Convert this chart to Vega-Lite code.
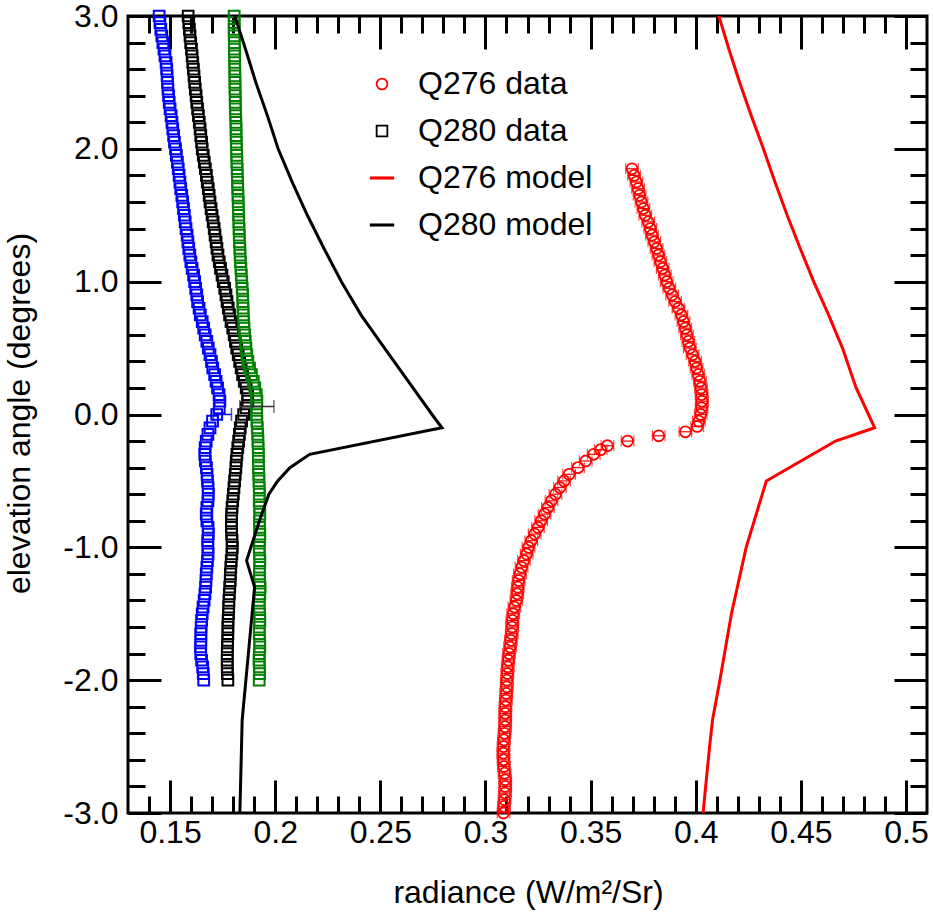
{
  "$schema": "https://vega.github.io/schema/vega-lite/v6.json",
  "width": 799,
  "height": 797,
  "autosize": {"type": "none"},
  "padding": {"left": 128, "top": 16, "right": 6, "bottom": 104},
  "background": "white",
  "config": {
    "font": "Liberation Sans",
    "view": {"stroke": "black", "strokeWidth": 3},
    "axis": {"grid": false, "domain": false, "tickColor": "black", "tickWidth": 3, "labelColor": "black", "labelFont": "Liberation Sans", "labelFontSize": 32, "titleFont": "Liberation Sans", "titleFontSize": 32, "titleFontWeight": "normal", "titleColor": "black", "labelOverlap": false, "labelFlush": false}
  },
  "resolve": {"axis": {"x": "independent", "y": "independent"}},
  "datasets": {
    "blue": [
      {"elev": -2.0, "rad": 0.166}, {"elev": -1.95, "rad": 0.1658}, {"elev": -1.9, "rad": 0.1655}, {"elev": -1.85, "rad": 0.165}, {"elev": -1.8, "rad": 0.1646}, {"elev": -1.75, "rad": 0.1645}, {"elev": -1.7, "rad": 0.1647}, {"elev": -1.65, "rad": 0.1646}, {"elev": -1.6, "rad": 0.1648}, {"elev": -1.55, "rad": 0.165},
      {"elev": -1.5, "rad": 0.1653}, {"elev": -1.45, "rad": 0.1657}, {"elev": -1.4, "rad": 0.1662}, {"elev": -1.35, "rad": 0.1666}, {"elev": -1.3, "rad": 0.1669}, {"elev": -1.25, "rad": 0.1671}, {"elev": -1.2, "rad": 0.1672}, {"elev": -1.15, "rad": 0.1675}, {"elev": -1.1, "rad": 0.1678}, {"elev": -1.05, "rad": 0.1681},
      {"elev": -1.0, "rad": 0.168}, {"elev": -0.95, "rad": 0.1679}, {"elev": -0.9, "rad": 0.1682}, {"elev": -0.85, "rad": 0.1681}, {"elev": -0.8, "rad": 0.1675}, {"elev": -0.75, "rad": 0.1672}, {"elev": -0.7, "rad": 0.1675}, {"elev": -0.65, "rad": 0.168}, {"elev": -0.6, "rad": 0.1682}, {"elev": -0.55, "rad": 0.1681},
      {"elev": -0.5, "rad": 0.1678}, {"elev": -0.45, "rad": 0.1676}, {"elev": -0.4, "rad": 0.1673}, {"elev": -0.35, "rad": 0.1668}, {"elev": -0.3, "rad": 0.1665}, {"elev": -0.25, "rad": 0.1667}, {"elev": -0.2, "rad": 0.1672}, {"elev": -0.15, "rad": 0.168}, {"elev": -0.1, "rad": 0.169}, {"elev": -0.05, "rad": 0.1702},
      {"elev": 0.0, "rad": 0.1722}, {"elev": 0.05, "rad": 0.1734}, {"elev": 0.1, "rad": 0.1737}, {"elev": 0.15, "rad": 0.1733}, {"elev": 0.2, "rad": 0.1726}, {"elev": 0.25, "rad": 0.1719}, {"elev": 0.3, "rad": 0.1712}, {"elev": 0.35, "rad": 0.1703}, {"elev": 0.4, "rad": 0.1697}, {"elev": 0.45, "rad": 0.169},
      {"elev": 0.5, "rad": 0.1682}, {"elev": 0.55, "rad": 0.1675}, {"elev": 0.6, "rad": 0.1667}, {"elev": 0.65, "rad": 0.166}, {"elev": 0.7, "rad": 0.1653}, {"elev": 0.75, "rad": 0.1644}, {"elev": 0.8, "rad": 0.1638}, {"elev": 0.85, "rad": 0.1631}, {"elev": 0.9, "rad": 0.1627}, {"elev": 0.95, "rad": 0.1622},
      {"elev": 1.0, "rad": 0.1617}, {"elev": 1.05, "rad": 0.1612}, {"elev": 1.1, "rad": 0.1605}, {"elev": 1.15, "rad": 0.1599}, {"elev": 1.2, "rad": 0.1594}, {"elev": 1.25, "rad": 0.1589}, {"elev": 1.3, "rad": 0.1585}, {"elev": 1.35, "rad": 0.1581}, {"elev": 1.4, "rad": 0.1576}, {"elev": 1.45, "rad": 0.1572},
      {"elev": 1.5, "rad": 0.1568}, {"elev": 1.55, "rad": 0.1564}, {"elev": 1.6, "rad": 0.156}, {"elev": 1.65, "rad": 0.1556}, {"elev": 1.7, "rad": 0.1551}, {"elev": 1.75, "rad": 0.1547}, {"elev": 1.8, "rad": 0.1543}, {"elev": 1.85, "rad": 0.1539}, {"elev": 1.9, "rad": 0.1535}, {"elev": 1.95, "rad": 0.153},
      {"elev": 2.0, "rad": 0.1526}, {"elev": 2.05, "rad": 0.1521}, {"elev": 2.1, "rad": 0.1517}, {"elev": 2.15, "rad": 0.1513}, {"elev": 2.2, "rad": 0.1509}, {"elev": 2.25, "rad": 0.1505}, {"elev": 2.3, "rad": 0.15}, {"elev": 2.35, "rad": 0.1496}, {"elev": 2.4, "rad": 0.1493}, {"elev": 2.45, "rad": 0.149},
      {"elev": 2.5, "rad": 0.1488}, {"elev": 2.55, "rad": 0.1486}, {"elev": 2.6, "rad": 0.1484}, {"elev": 2.65, "rad": 0.1481}, {"elev": 2.7, "rad": 0.1476}, {"elev": 2.75, "rad": 0.1471}, {"elev": 2.8, "rad": 0.1466}, {"elev": 2.85, "rad": 0.1461}, {"elev": 2.9, "rad": 0.1456}, {"elev": 2.95, "rad": 0.1452},
      {"elev": 3.0, "rad": 0.1448}
    ],
    "black": [
      {"elev": -2.0, "rad": 0.1775}, {"elev": -1.95, "rad": 0.1773}, {"elev": -1.9, "rad": 0.1772}, {"elev": -1.85, "rad": 0.1772}, {"elev": -1.8, "rad": 0.1772}, {"elev": -1.75, "rad": 0.1773}, {"elev": -1.7, "rad": 0.1774}, {"elev": -1.65, "rad": 0.1775}, {"elev": -1.6, "rad": 0.1775}, {"elev": -1.55, "rad": 0.1776},
      {"elev": -1.5, "rad": 0.1778}, {"elev": -1.45, "rad": 0.1779}, {"elev": -1.4, "rad": 0.178}, {"elev": -1.35, "rad": 0.1782}, {"elev": -1.3, "rad": 0.1784}, {"elev": -1.25, "rad": 0.1786}, {"elev": -1.2, "rad": 0.1787}, {"elev": -1.15, "rad": 0.1789}, {"elev": -1.1, "rad": 0.1791}, {"elev": -1.05, "rad": 0.1794},
      {"elev": -1.0, "rad": 0.1796}, {"elev": -0.95, "rad": 0.1795}, {"elev": -0.9, "rad": 0.1793}, {"elev": -0.85, "rad": 0.1792}, {"elev": -0.8, "rad": 0.1792}, {"elev": -0.75, "rad": 0.1793}, {"elev": -0.7, "rad": 0.1795}, {"elev": -0.65, "rad": 0.1798}, {"elev": -0.6, "rad": 0.1801}, {"elev": -0.55, "rad": 0.1804},
      {"elev": -0.5, "rad": 0.1807}, {"elev": -0.45, "rad": 0.181}, {"elev": -0.4, "rad": 0.1813}, {"elev": -0.35, "rad": 0.1815}, {"elev": -0.3, "rad": 0.1818}, {"elev": -0.25, "rad": 0.1822}, {"elev": -0.2, "rad": 0.1826}, {"elev": -0.15, "rad": 0.183}, {"elev": -0.1, "rad": 0.1834}, {"elev": -0.05, "rad": 0.184},
      {"elev": 0.0, "rad": 0.185}, {"elev": 0.05, "rad": 0.1862}, {"elev": 0.1, "rad": 0.187}, {"elev": 0.15, "rad": 0.1869}, {"elev": 0.2, "rad": 0.1862}, {"elev": 0.25, "rad": 0.1853}, {"elev": 0.3, "rad": 0.1845}, {"elev": 0.35, "rad": 0.1838}, {"elev": 0.4, "rad": 0.1831}, {"elev": 0.45, "rad": 0.1824},
      {"elev": 0.5, "rad": 0.1817}, {"elev": 0.55, "rad": 0.1811}, {"elev": 0.6, "rad": 0.1805}, {"elev": 0.65, "rad": 0.1798}, {"elev": 0.7, "rad": 0.179}, {"elev": 0.75, "rad": 0.1783}, {"elev": 0.8, "rad": 0.1777}, {"elev": 0.85, "rad": 0.1771}, {"elev": 0.9, "rad": 0.1766}, {"elev": 0.95, "rad": 0.176},
      {"elev": 1.0, "rad": 0.1753}, {"elev": 1.05, "rad": 0.1747}, {"elev": 1.1, "rad": 0.174}, {"elev": 1.15, "rad": 0.1734}, {"elev": 1.2, "rad": 0.1728}, {"elev": 1.25, "rad": 0.1723}, {"elev": 1.3, "rad": 0.1719}, {"elev": 1.35, "rad": 0.1714}, {"elev": 1.4, "rad": 0.171}, {"elev": 1.45, "rad": 0.1705},
      {"elev": 1.5, "rad": 0.17}, {"elev": 1.55, "rad": 0.1695}, {"elev": 1.6, "rad": 0.169}, {"elev": 1.65, "rad": 0.1686}, {"elev": 1.7, "rad": 0.1682}, {"elev": 1.75, "rad": 0.1677}, {"elev": 1.8, "rad": 0.1673}, {"elev": 1.85, "rad": 0.1668}, {"elev": 1.9, "rad": 0.1663}, {"elev": 1.95, "rad": 0.1658},
      {"elev": 2.0, "rad": 0.1653}, {"elev": 2.05, "rad": 0.165}, {"elev": 2.1, "rad": 0.1646}, {"elev": 2.15, "rad": 0.1643}, {"elev": 2.2, "rad": 0.1639}, {"elev": 2.25, "rad": 0.1635}, {"elev": 2.3, "rad": 0.1631}, {"elev": 2.35, "rad": 0.1627}, {"elev": 2.4, "rad": 0.1624}, {"elev": 2.45, "rad": 0.162},
      {"elev": 2.5, "rad": 0.1617}, {"elev": 2.55, "rad": 0.1614}, {"elev": 2.6, "rad": 0.1611}, {"elev": 2.65, "rad": 0.1608}, {"elev": 2.7, "rad": 0.1605}, {"elev": 2.75, "rad": 0.1602}, {"elev": 2.8, "rad": 0.1598}, {"elev": 2.85, "rad": 0.1595}, {"elev": 2.9, "rad": 0.1592}, {"elev": 2.95, "rad": 0.1589},
      {"elev": 3.0, "rad": 0.1586}
    ],
    "green": [
      {"elev": -2.0, "rad": 0.1924}, {"elev": -1.95, "rad": 0.1926}, {"elev": -1.9, "rad": 0.1925}, {"elev": -1.85, "rad": 0.1923}, {"elev": -1.8, "rad": 0.1925}, {"elev": -1.75, "rad": 0.1927}, {"elev": -1.7, "rad": 0.1926}, {"elev": -1.65, "rad": 0.1924}, {"elev": -1.6, "rad": 0.1925}, {"elev": -1.55, "rad": 0.1927},
      {"elev": -1.5, "rad": 0.1926}, {"elev": -1.45, "rad": 0.1924}, {"elev": -1.4, "rad": 0.1925}, {"elev": -1.35, "rad": 0.1927}, {"elev": -1.3, "rad": 0.1928}, {"elev": -1.25, "rad": 0.1926}, {"elev": -1.2, "rad": 0.1925}, {"elev": -1.15, "rad": 0.1926}, {"elev": -1.1, "rad": 0.1927}, {"elev": -1.05, "rad": 0.1925},
      {"elev": -1.0, "rad": 0.1924}, {"elev": -0.95, "rad": 0.1926}, {"elev": -0.9, "rad": 0.1927}, {"elev": -0.85, "rad": 0.1926}, {"elev": -0.8, "rad": 0.1925}, {"elev": -0.75, "rad": 0.1927}, {"elev": -0.7, "rad": 0.1926}, {"elev": -0.65, "rad": 0.1924}, {"elev": -0.6, "rad": 0.1925}, {"elev": -0.55, "rad": 0.1924},
      {"elev": -0.5, "rad": 0.1923}, {"elev": -0.45, "rad": 0.1922}, {"elev": -0.4, "rad": 0.1921}, {"elev": -0.35, "rad": 0.192}, {"elev": -0.3, "rad": 0.192}, {"elev": -0.25, "rad": 0.1919}, {"elev": -0.2, "rad": 0.1918}, {"elev": -0.15, "rad": 0.1917}, {"elev": -0.1, "rad": 0.1915}, {"elev": -0.05, "rad": 0.1913},
      {"elev": 0.0, "rad": 0.1911}, {"elev": 0.05, "rad": 0.1912}, {"elev": 0.1, "rad": 0.1913}, {"elev": 0.15, "rad": 0.191}, {"elev": 0.2, "rad": 0.1903}, {"elev": 0.25, "rad": 0.1896}, {"elev": 0.3, "rad": 0.1887}, {"elev": 0.35, "rad": 0.1878}, {"elev": 0.4, "rad": 0.187}, {"elev": 0.45, "rad": 0.1865},
      {"elev": 0.5, "rad": 0.1861}, {"elev": 0.55, "rad": 0.1858}, {"elev": 0.6, "rad": 0.1855}, {"elev": 0.65, "rad": 0.1852}, {"elev": 0.7, "rad": 0.185}, {"elev": 0.75, "rad": 0.1848}, {"elev": 0.8, "rad": 0.1847}, {"elev": 0.85, "rad": 0.1846}, {"elev": 0.9, "rad": 0.1845}, {"elev": 0.95, "rad": 0.1843},
      {"elev": 1.0, "rad": 0.1841}, {"elev": 1.05, "rad": 0.1839}, {"elev": 1.1, "rad": 0.1837}, {"elev": 1.15, "rad": 0.1835}, {"elev": 1.2, "rad": 0.1833}, {"elev": 1.25, "rad": 0.1832}, {"elev": 1.3, "rad": 0.183}, {"elev": 1.35, "rad": 0.1829}, {"elev": 1.4, "rad": 0.1828}, {"elev": 1.45, "rad": 0.1827},
      {"elev": 1.5, "rad": 0.1826}, {"elev": 1.55, "rad": 0.1825}, {"elev": 1.6, "rad": 0.1824}, {"elev": 1.65, "rad": 0.1823}, {"elev": 1.7, "rad": 0.1822}, {"elev": 1.75, "rad": 0.1821}, {"elev": 1.8, "rad": 0.182}, {"elev": 1.85, "rad": 0.1819}, {"elev": 1.9, "rad": 0.1818}, {"elev": 1.95, "rad": 0.1817},
      {"elev": 2.0, "rad": 0.1816}, {"elev": 2.05, "rad": 0.1815}, {"elev": 2.1, "rad": 0.1814}, {"elev": 2.15, "rad": 0.1814}, {"elev": 2.2, "rad": 0.1813}, {"elev": 2.25, "rad": 0.1812}, {"elev": 2.3, "rad": 0.1811}, {"elev": 2.35, "rad": 0.181}, {"elev": 2.4, "rad": 0.181}, {"elev": 2.45, "rad": 0.1809},
      {"elev": 2.5, "rad": 0.1809}, {"elev": 2.55, "rad": 0.1808}, {"elev": 2.6, "rad": 0.1808}, {"elev": 2.65, "rad": 0.1807}, {"elev": 2.7, "rad": 0.1807}, {"elev": 2.75, "rad": 0.1806}, {"elev": 2.8, "rad": 0.1806}, {"elev": 2.85, "rad": 0.1805}, {"elev": 2.9, "rad": 0.1805}, {"elev": 2.95, "rad": 0.1805},
      {"elev": 3.0, "rad": 0.1805}
    ],
    "red": [
      {"elev": -3.0, "rad": 0.3086, "err": 0.003}, {"elev": -2.95, "rad": 0.3088, "err": 0.003}, {"elev": -2.9, "rad": 0.3091, "err": 0.003}, {"elev": -2.85, "rad": 0.3093, "err": 0.003}, {"elev": -2.8, "rad": 0.3094, "err": 0.003}, {"elev": -2.75, "rad": 0.3094, "err": 0.003}, {"elev": -2.7, "rad": 0.3091, "err": 0.003}, {"elev": -2.65, "rad": 0.3088, "err": 0.003}, {"elev": -2.6, "rad": 0.3086, "err": 0.003}, {"elev": -2.55, "rad": 0.3085, "err": 0.003},
      {"elev": -2.5, "rad": 0.3086, "err": 0.003}, {"elev": -2.45, "rad": 0.3088, "err": 0.003}, {"elev": -2.4, "rad": 0.3091, "err": 0.003}, {"elev": -2.35, "rad": 0.3093, "err": 0.003}, {"elev": -2.3, "rad": 0.3094, "err": 0.003}, {"elev": -2.25, "rad": 0.3094, "err": 0.003}, {"elev": -2.2, "rad": 0.3095, "err": 0.003}, {"elev": -2.15, "rad": 0.3097, "err": 0.003}, {"elev": -2.1, "rad": 0.3099, "err": 0.003}, {"elev": -2.05, "rad": 0.3101, "err": 0.003},
      {"elev": -2.0, "rad": 0.3102, "err": 0.003}, {"elev": -1.95, "rad": 0.3104, "err": 0.003}, {"elev": -1.9, "rad": 0.3106, "err": 0.003}, {"elev": -1.85, "rad": 0.3109, "err": 0.003}, {"elev": -1.8, "rad": 0.3112, "err": 0.003}, {"elev": -1.75, "rad": 0.3117, "err": 0.003}, {"elev": -1.7, "rad": 0.3121, "err": 0.003}, {"elev": -1.65, "rad": 0.3125, "err": 0.003}, {"elev": -1.6, "rad": 0.3127, "err": 0.003}, {"elev": -1.55, "rad": 0.3128, "err": 0.003},
      {"elev": -1.5, "rad": 0.3132, "err": 0.003}, {"elev": -1.45, "rad": 0.3138, "err": 0.003}, {"elev": -1.4, "rad": 0.3147, "err": 0.003}, {"elev": -1.35, "rad": 0.3151, "err": 0.003}, {"elev": -1.3, "rad": 0.3154, "err": 0.003}, {"elev": -1.25, "rad": 0.3158, "err": 0.003}, {"elev": -1.2, "rad": 0.3164, "err": 0.003}, {"elev": -1.15, "rad": 0.3172, "err": 0.003}, {"elev": -1.1, "rad": 0.3183, "err": 0.003}, {"elev": -1.05, "rad": 0.3196, "err": 0.003},
      {"elev": -1.0, "rad": 0.3205, "err": 0.003}, {"elev": -0.95, "rad": 0.3218, "err": 0.003}, {"elev": -0.9, "rad": 0.3234, "err": 0.003}, {"elev": -0.85, "rad": 0.325, "err": 0.003}, {"elev": -0.8, "rad": 0.3265, "err": 0.003}, {"elev": -0.75, "rad": 0.3281, "err": 0.003}, {"elev": -0.7, "rad": 0.3297, "err": 0.003}, {"elev": -0.65, "rad": 0.3314, "err": 0.003}, {"elev": -0.6, "rad": 0.3333, "err": 0.003}, {"elev": -0.55, "rad": 0.3354, "err": 0.003},
      {"elev": -0.5, "rad": 0.3374, "err": 0.003}, {"elev": -0.45, "rad": 0.3398, "err": 0.003}, {"elev": -0.4, "rad": 0.344, "err": 0.003}, {"elev": -0.35, "rad": 0.3477, "err": 0.003}, {"elev": -0.3, "rad": 0.3515, "err": 0.003}, {"elev": -0.265, "rad": 0.3548, "err": 0.003}, {"elev": -0.235, "rad": 0.358, "err": 0.003}, {"elev": -0.2, "rad": 0.3676, "err": 0.003}, {"elev": -0.16, "rad": 0.3824, "err": 0.003}, {"elev": -0.13, "rad": 0.3951, "err": 0.003},
      {"elev": -0.09, "rad": 0.4007, "err": 0.003}, {"elev": -0.05, "rad": 0.4015, "err": 0.003}, {"elev": 0.0, "rad": 0.4024, "err": 0.003}, {"elev": 0.05, "rad": 0.4028, "err": 0.003}, {"elev": 0.1, "rad": 0.403, "err": 0.003}, {"elev": 0.15, "rad": 0.4028, "err": 0.003}, {"elev": 0.2, "rad": 0.4025, "err": 0.003}, {"elev": 0.25, "rad": 0.402, "err": 0.003}, {"elev": 0.3, "rad": 0.4012, "err": 0.003}, {"elev": 0.35, "rad": 0.4004, "err": 0.003},
      {"elev": 0.4, "rad": 0.3997, "err": 0.003}, {"elev": 0.45, "rad": 0.3985, "err": 0.003}, {"elev": 0.5, "rad": 0.3972, "err": 0.003}, {"elev": 0.55, "rad": 0.3965, "err": 0.003}, {"elev": 0.6, "rad": 0.3958, "err": 0.003}, {"elev": 0.65, "rad": 0.395, "err": 0.003}, {"elev": 0.7, "rad": 0.3942, "err": 0.003}, {"elev": 0.75, "rad": 0.3932, "err": 0.003}, {"elev": 0.8, "rad": 0.3918, "err": 0.003}, {"elev": 0.85, "rad": 0.3902, "err": 0.003},
      {"elev": 0.9, "rad": 0.3888, "err": 0.003}, {"elev": 0.95, "rad": 0.3874, "err": 0.003}, {"elev": 1.0, "rad": 0.3862, "err": 0.003}, {"elev": 1.05, "rad": 0.3853, "err": 0.003}, {"elev": 1.1, "rad": 0.3843, "err": 0.003}, {"elev": 1.15, "rad": 0.3832, "err": 0.003}, {"elev": 1.2, "rad": 0.3823, "err": 0.003}, {"elev": 1.25, "rad": 0.3814, "err": 0.003}, {"elev": 1.3, "rad": 0.3803, "err": 0.003}, {"elev": 1.35, "rad": 0.3792, "err": 0.003},
      {"elev": 1.4, "rad": 0.3784, "err": 0.003}, {"elev": 1.45, "rad": 0.3774, "err": 0.003}, {"elev": 1.5, "rad": 0.376, "err": 0.003}, {"elev": 1.55, "rad": 0.3751, "err": 0.003}, {"elev": 1.6, "rad": 0.3742, "err": 0.003}, {"elev": 1.65, "rad": 0.3733, "err": 0.003}, {"elev": 1.7, "rad": 0.3726, "err": 0.003}, {"elev": 1.75, "rad": 0.3718, "err": 0.003}, {"elev": 1.8, "rad": 0.3707, "err": 0.003}, {"elev": 1.85, "rad": 0.3697, "err": 0.003}
    ],
    "redmodel": [
      {"elev": -3.0, "rad": 0.4035}, {"elev": -2.5, "rad": 0.4066}, {"elev": -2.3, "rad": 0.408}, {"elev": -2.0, "rad": 0.4115}, {"elev": -1.5, "rad": 0.417}, {"elev": -1.0, "rad": 0.424}, {"elev": -0.5, "rad": 0.4336}, {"elev": -0.2, "rad": 0.4665}, {"elev": -0.1, "rad": 0.4851}, {"elev": 0.0, "rad": 0.4822}, {"elev": 0.2, "rad": 0.4763}, {"elev": 0.5, "rad": 0.4698}, {"elev": 0.75, "rad": 0.4632}, {"elev": 1.0, "rad": 0.4561}, {"elev": 1.25, "rad": 0.4497}, {"elev": 1.5, "rad": 0.4435}, {"elev": 1.75, "rad": 0.4377}, {"elev": 2.0, "rad": 0.4322}, {"elev": 2.25, "rad": 0.4264}, {"elev": 2.5, "rad": 0.4209}, {"elev": 2.75, "rad": 0.4158}, {"elev": 3.0, "rad": 0.411}
    ],
    "blackmodel": [
      {"elev": -3.0, "rad": 0.1832}, {"elev": -2.3, "rad": 0.1843}, {"elev": -1.3, "rad": 0.1902}, {"elev": -1.1, "rad": 0.1864}, {"elev": -0.8, "rad": 0.1925}, {"elev": -0.6, "rad": 0.197}, {"elev": -0.5, "rad": 0.2012}, {"elev": -0.4, "rad": 0.207}, {"elev": -0.3, "rad": 0.2164}, {"elev": -0.1, "rad": 0.2793}, {"elev": 0.0, "rad": 0.2746}, {"elev": 0.5, "rad": 0.252}, {"elev": 0.75, "rad": 0.2408}, {"elev": 1.0, "rad": 0.2315}, {"elev": 1.25, "rad": 0.2232}, {"elev": 1.5, "rad": 0.2153}, {"elev": 1.75, "rad": 0.2081}, {"elev": 2.0, "rad": 0.2014}, {"elev": 2.25, "rad": 0.1963}, {"elev": 2.5, "rad": 0.1908}, {"elev": 2.75, "rad": 0.1859}, {"elev": 3.0, "rad": 0.1808}
    ],
    "barblack": [
      {"elev": 0.06, "rad": 0.1913, "err": 0.0081}
    ],
    "barblue": [
      {"elev": 0.0, "rad": 0.1749, "err": 0.0043}
    ]
  },
  "layer": [
    {
      "data": {"name": "blue"},
      "mark": {"type": "point", "filled": false, "strokeWidth": 2, "size": 115, "opacity": 1},
      "encoding": {
        "x": {"field": "rad", "type": "quantitative", "scale": {"domain": [0.13, 0.51], "nice": false, "zero": false},
              "axis": {"orient": "bottom", "values": [0.15, 0.2, 0.25, 0.3, 0.35, 0.4, 0.45, 0.5], "tickSize": -33, "labelPadding": 37, "labelExpr": "format(datum.value, '~g')", "title": "radiance (W/m²/Sr)", "titleX": 400, "titleY": 89, "titleBaseline": "alphabetic"}},
        "y": {"field": "elev", "type": "quantitative", "scale": {"domain": [-3, 3], "nice": false, "zero": false},
              "axis": {"orient": "left", "values": [-3, -2, -1, 0, 1, 2, 3], "tickSize": -33, "labelPadding": 43, "labelExpr": "replace(format(datum.value, '.1f'), '−', '-')", "title": "elevation angle (degrees)", "titleX": -99, "titleY": 397, "titleBaseline": "alphabetic", "titleAngle": -90}},
        "color": {"datum": "blue data", "type": "nominal", "scale": {"domain": ["Q276 data", "Q280 data", "Q276 model", "Q280 model", "blue data", "green data"], "range": ["#ff0000", "#000000", "#ff0000", "#000000", "#0000ff", "#008000"]},
                  "legend": {"title": null, "orient": "none", "direction": "vertical", "legendX": 238, "legendY": 52, "values": ["Q276 data", "Q280 data", "Q276 model", "Q280 model"], "labelFont": "Liberation Sans", "labelFontSize": 32, "labelColor": "black", "labelLimit": 400, "labelOffset": 20, "rowPadding": 15, "padding": 0, "symbolSize": 115, "symbolStrokeWidth": 1.8, "symbolFillColor": "transparent", "symbolOpacity": 1}},
        "shape": {"datum": "blue data", "type": "nominal", "scale": {"domain": ["Q276 data", "Q280 data", "Q276 model", "Q280 model", "blue data", "green data"], "range": ["circle", "square", "M-2.1,-0.12H2.1V0.12H-2.1Z", "M-2.1,-0.12H2.1V0.12H-2.1Z", "square", "square"]},
                  "legend": {"title": null, "orient": "none", "direction": "vertical", "legendX": 238, "legendY": 52, "values": ["Q276 data", "Q280 data", "Q276 model", "Q280 model"], "labelFont": "Liberation Sans", "labelFontSize": 32, "labelColor": "black", "labelLimit": 400, "labelOffset": 20, "rowPadding": 15, "padding": 0, "symbolSize": 115, "symbolStrokeWidth": 1.8, "symbolFillColor": "transparent", "symbolOpacity": 1}}
      }
    },
    {
      "data": {"name": "black"},
      "mark": {"type": "point", "filled": false, "strokeWidth": 2, "size": 115, "opacity": 1},
      "encoding": {
        "x": {"field": "rad", "type": "quantitative", "scale": {"domain": [0.13, 0.51], "nice": false, "zero": false},
              "axis": {"orient": "bottom", "values": [0.14, 0.16, 0.17, 0.18, 0.19, 0.21, 0.22, 0.23, 0.24, 0.26, 0.27, 0.28, 0.29, 0.31, 0.32, 0.33, 0.34, 0.36, 0.37, 0.38, 0.39, 0.41, 0.42, 0.43, 0.44, 0.46, 0.47, 0.48, 0.49], "tickSize": -17, "labels": false, "title": null}},
        "y": {"field": "elev", "type": "quantitative", "scale": {"domain": [-3, 3], "nice": false, "zero": false},
              "axis": {"orient": "left", "values": [-2.8, -2.6, -2.4, -2.2, -1.8, -1.6, -1.4, -1.2, -0.8, -0.6, -0.4, -0.2, 0.2, 0.4, 0.6, 0.8, 1.2, 1.4, 1.6, 1.8, 2.2, 2.4, 2.6, 2.8], "tickSize": -17, "labels": false, "title": null}},
        "color": {"datum": "Q280 data", "type": "nominal"},
        "shape": {"datum": "Q280 data", "type": "nominal"}
      }
    },
    {
      "data": {"name": "green"},
      "mark": {"type": "point", "filled": false, "strokeWidth": 2, "size": 115, "opacity": 1},
      "encoding": {
        "x": {"field": "rad", "type": "quantitative", "scale": {"domain": [0.13, 0.51], "nice": false, "zero": false},
              "axis": {"orient": "top", "values": [0.15, 0.2, 0.25, 0.3, 0.35, 0.4, 0.45, 0.5], "tickSize": -33, "labels": false, "title": null}},
        "y": {"field": "elev", "type": "quantitative", "scale": {"domain": [-3, 3], "nice": false, "zero": false},
              "axis": {"orient": "right", "values": [-3, -2, -1, 0, 1, 2, 3], "tickSize": -33, "labels": false, "title": null}},
        "color": {"datum": "green data", "type": "nominal"},
        "shape": {"datum": "green data", "type": "nominal"}
      }
    },
    {
      "data": {"name": "red"},
      "mark": {"type": "point", "filled": false, "strokeWidth": 1.8, "size": 120, "opacity": 1},
      "encoding": {
        "x": {"field": "rad", "type": "quantitative", "scale": {"domain": [0.13, 0.51], "nice": false, "zero": false},
              "axis": {"orient": "top", "values": [0.14, 0.16, 0.17, 0.18, 0.19, 0.21, 0.22, 0.23, 0.24, 0.26, 0.27, 0.28, 0.29, 0.31, 0.32, 0.33, 0.34, 0.36, 0.37, 0.38, 0.39, 0.41, 0.42, 0.43, 0.44, 0.46, 0.47, 0.48, 0.49], "tickSize": -17, "labels": false, "title": null}},
        "y": {"field": "elev", "type": "quantitative", "scale": {"domain": [-3, 3], "nice": false, "zero": false},
              "axis": {"orient": "right", "values": [-2.8, -2.6, -2.4, -2.2, -1.8, -1.6, -1.4, -1.2, -0.8, -0.6, -0.4, -0.2, 0.2, 0.4, 0.6, 0.8, 1.2, 1.4, 1.6, 1.8, 2.2, 2.4, 2.6, 2.8], "tickSize": -17, "labels": false, "title": null}},
        "color": {"datum": "Q276 data", "type": "nominal"},
        "shape": {"datum": "Q276 data", "type": "nominal"}
      }
    },
    {
      "data": {"name": "red"},
      "mark": {"type": "errorbar", "ticks": {"size": 11}, "thickness": 1.2, "color": "#ff0000"},
      "encoding": {
        "x": {"field": "rad", "type": "quantitative", "scale": {"domain": [0.13, 0.51], "nice": false, "zero": false}, "axis": null},
        "xError": {"field": "err"},
        "y": {"field": "elev", "type": "quantitative", "scale": {"domain": [-3, 3], "nice": false, "zero": false}, "axis": null}
      }
    },
    {
      "data": {"name": "barblack"},
      "mark": {"type": "errorbar", "ticks": {"size": 13}, "thickness": 1.5, "color": "#333333"},
      "encoding": {
        "x": {"field": "rad", "type": "quantitative", "scale": {"domain": [0.13, 0.51], "nice": false, "zero": false}, "axis": null},
        "xError": {"field": "err"},
        "y": {"field": "elev", "type": "quantitative", "scale": {"domain": [-3, 3], "nice": false, "zero": false}, "axis": null}
      }
    },
    {
      "data": {"name": "barblue"},
      "mark": {"type": "errorbar", "ticks": {"size": 13}, "thickness": 1.5, "color": "#0000ff"},
      "encoding": {
        "x": {"field": "rad", "type": "quantitative", "scale": {"domain": [0.13, 0.51], "nice": false, "zero": false}, "axis": null},
        "xError": {"field": "err"},
        "y": {"field": "elev", "type": "quantitative", "scale": {"domain": [-3, 3], "nice": false, "zero": false}, "axis": null}
      }
    },
    {
      "data": {"name": "redmodel"},
      "mark": {"type": "line", "strokeWidth": 3},
      "encoding": {
        "x": {"field": "rad", "type": "quantitative", "scale": {"domain": [0.13, 0.51], "nice": false, "zero": false}, "axis": null},
        "y": {"field": "elev", "type": "quantitative", "scale": {"domain": [-3, 3], "nice": false, "zero": false}, "axis": null},
        "order": {"field": "elev", "type": "quantitative"},
        "color": {"datum": "Q276 model", "type": "nominal"}
      }
    },
    {
      "data": {"name": "blackmodel"},
      "mark": {"type": "line", "strokeWidth": 3},
      "encoding": {
        "x": {"field": "rad", "type": "quantitative", "scale": {"domain": [0.13, 0.51], "nice": false, "zero": false}, "axis": null},
        "y": {"field": "elev", "type": "quantitative", "scale": {"domain": [-3, 3], "nice": false, "zero": false}, "axis": null},
        "order": {"field": "elev", "type": "quantitative"},
        "color": {"datum": "Q280 model", "type": "nominal"}
      }
    }
  ]
}
